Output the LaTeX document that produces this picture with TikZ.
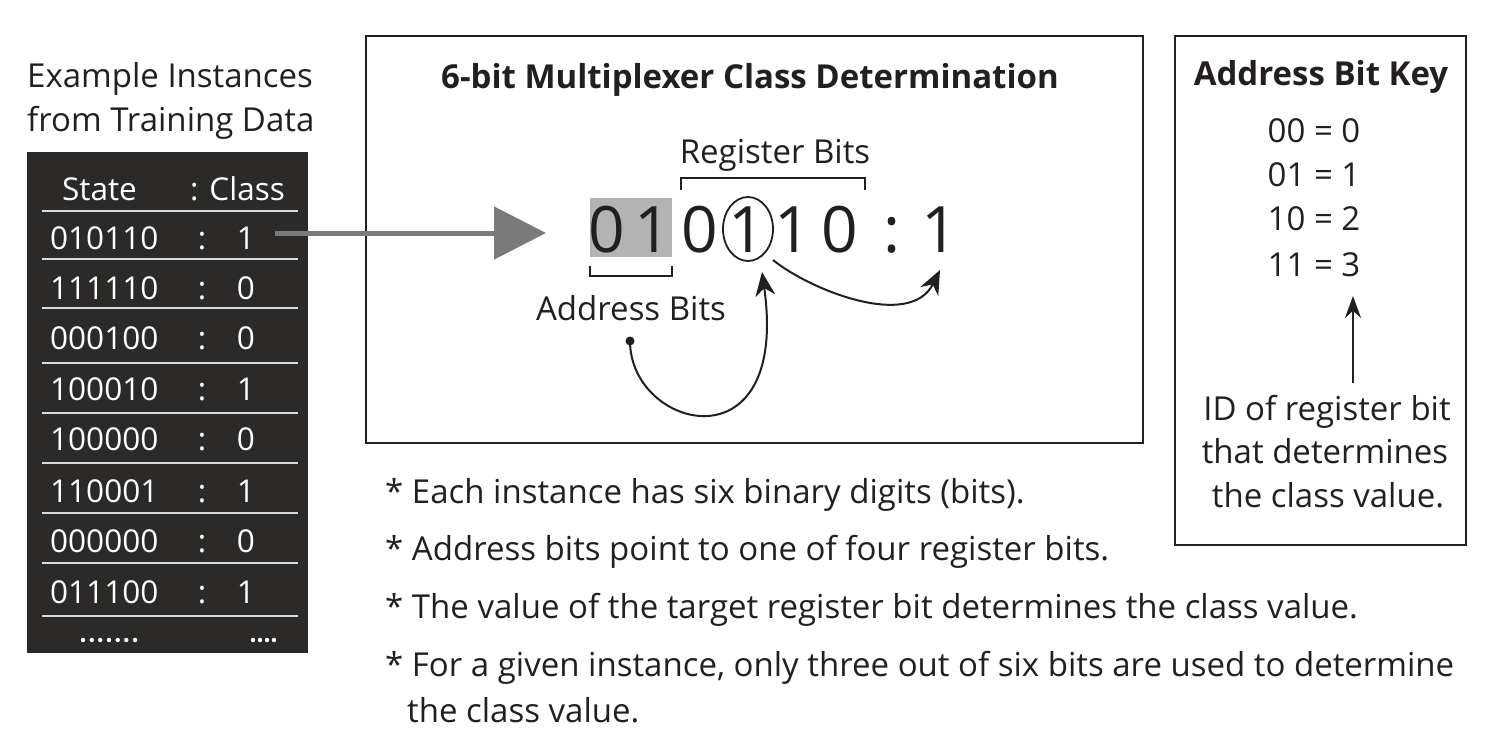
\documentclass[tikz,border=0pt]{standalone}
\usepackage{fontspec}
\setmainfont{Open Sans}
\usetikzlibrary{arrows.meta}
\definecolor{tabbg}{HTML}{2B2A28}
\definecolor{ink}{HTML}{231F20}
\definecolor{hilite}{HTML}{B3B3B3}
\definecolor{arrowgray}{HTML}{7A7A7A}
\tikzset{
  txt/.style={font=\fontsize{33}{40}\selectfont, text=ink, inner sep=0pt},
  btxt/.style={font=\fontsize{33}{40}\selectfont\bfseries, text=ink, inner sep=0pt},
  wtxt/.style={font=\fontsize{31.5}{38}\selectfont, text=white, inner sep=0pt, anchor=base},
  big/.style={font=\fontsize{64}{76}\selectfont, text=ink, inner sep=0pt, anchor=base},
  frame/.style={draw=ink, line width=1.8pt},
  rule/.style={draw=white!85!black, line width=1.2pt},
  brk/.style={draw=ink, line width=1.8pt},
  curve/.style={draw=ink, line width=2pt, -{Stealth[length=24pt, width=20pt]}},
}
\begin{document}
\begin{tikzpicture}[x=1pt,y=-1pt]
\useasboundingbox (0,0) rectangle (1492,734);
% left caption
\node[txt, anchor=base west] (cap1) at (27,87) {Example Instances};
\node[txt, anchor=base west] (cap2) at (27,131) {from Training Data};
% table
\fill[tabbg] (27,152) rectangle (308,653);
\node[wtxt, anchor=base west] (hstate) at (62,200) {State};
\node[wtxt, anchor=base west] (hclass) at (190,200) {: Class};
\foreach \y in {211,259,308,363,413,463,513,563,616}
  \draw[rule] (42,\y) -- (298,\y);
\foreach \s/\c/\y [count=\i] in {010110/1/249,111110/0/299,000100/0/349,100010/1/400,100000/0/450,110001/1/502,000000/0/552,011100/1/603}{
  \node[wtxt, anchor=base west] (s\i) at (50,\y) {\s};
  \node[wtxt] (k\i) at (202,\y) {:};
  \node[wtxt] (c\i) at (246,\y) {\c};
}
\foreach \x in {83,91.7,100.3,109,117.7,126.3,135} \fill[white] (\x,640) circle (2.2);
\foreach \x in {253,260,267,274} \fill[white] (\x,640) circle (2.2);
% main box
\draw[frame] (366,36) rectangle (1143,443);
\node[btxt, anchor=base] (title) at (750,88) {6-bit Multiplexer Class Determination};
\node[txt, anchor=base] (reg) at (775,163) {Register Bits};
\draw[brk] (681,190) -- (681,178) -- (865,178) -- (865,190);
\fill[hilite] (590,198) rectangle (672,257);
\node[big] (d1) at (607,252) {0};
\node[big] (d2) at (653,252) {1};
\node[big] (d3) at (700,252) {0};
\node[big] (d4) at (747,252) {1};
\node[big] (d5) at (793,252) {1};
\node[big] (d6) at (840,252) {0};
\node[big] (col) at (892,252) {:};
\node[big] (res) at (940,252) {1};
\draw[ink, line width=1.8pt] (748,229) ellipse (25 and 32);
\draw[brk] (590,266) -- (590,276) -- (672,276) -- (672,266);
\node[txt, anchor=base] (addr) at (631,320) {Address Bits};
\fill[ink] (630,341) circle (4.5);
\coordinate (dot) at (630,341);
\coordinate (tip1) at (762,272);
\coordinate (from2) at (773,260);
\coordinate (tip2) at (940,270);
\draw[curve] (dot) .. controls (630,430) and (790,470) .. (tip1);
\draw[curve] (from2) .. controls (810,290) and (910,330) .. (tip2);
% gray arrow
\coordinate (astart) at (275,233);
\coordinate (aend) at (546,233);
\draw[arrowgray, line width=5pt, -{Triangle[length=52pt, width=52pt]}] (astart) -- (aend);
% key box
\draw[frame] (1175,36) rectangle (1466,545);
\node[btxt, anchor=base] (ktitle) at (1321,85) {Address Bit Key};
\node[txt, anchor=base] (k0) at (1314,142) {00 = 0};
\node[txt, anchor=base] (k1) at (1314,186) {01 = 1};
\node[txt, anchor=base] (k2) at (1314,230) {10 = 2};
\node[txt, anchor=base] (k3) at (1314,276) {11 = 3};
\coordinate (kup) at (1353,383);
\coordinate (ktip) at (1353,296);
\draw[ink, line width=2pt, -{Stealth[length=22pt, width=16pt]}] (kup) -- (ktip);
\node[txt, anchor=base] (id1) at (1327,420) {ID of register bit};
\node[txt, anchor=base] (id2) at (1325,463) {that determines};
\node[txt, anchor=base] (id3) at (1328,507) {the class value.};
% bullets
\node[txt, anchor=base west] (b1) at (385,503) {* Each instance has six binary digits (bits).};
\node[txt, anchor=base west] (b2) at (385,560) {* Address bits point to one of four register bits.};
\node[txt, anchor=base west] (b3) at (385,618) {* The value of the target register bit determines the class value.};
\node[txt, anchor=base west] (b4) at (385,676) {* For a given instance, only three out of six bits are used to determine};
\node[txt, anchor=base west] (b5) at (407,722) {the class value.};
\end{tikzpicture}
\end{document}
